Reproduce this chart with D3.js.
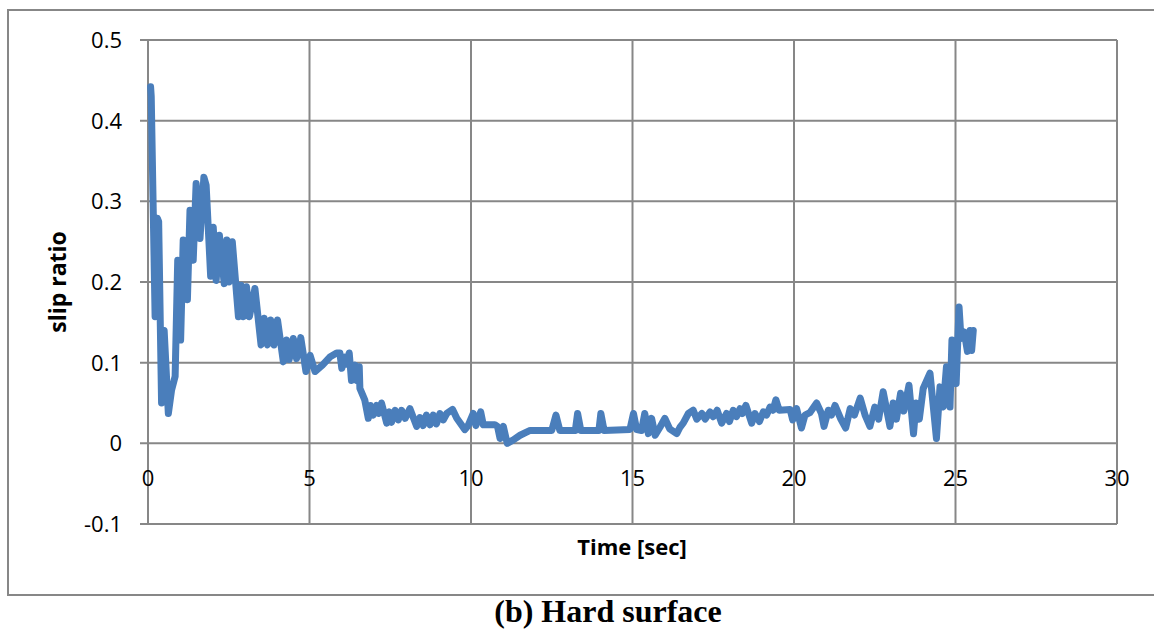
<!DOCTYPE html>
<html><head><meta charset="utf-8">
<script src="https://cdn.jsdelivr.net/npm/d3@7"></script>
<style>body{margin:0;background:#fff}</style>
</head><body>
<svg id="c" width="1154" height="631"></svg>
<script>
const timeSec = [0.08,0.10,0.22,0.29,0.33,0.42,0.50,0.63,0.73,0.84,0.92,1.01,1.09,1.22,1.30,1.40,1.49,1.61,1.73,1.80,1.94,2.02,2.11,2.21,2.36,2.44,2.51,2.61,2.80,2.88,2.95,3.05,3.14,3.31,3.50,3.60,3.70,3.80,3.90,4.01,4.19,4.29,4.37,4.50,4.60,4.73,4.89,5.02,5.17,5.40,5.63,5.84,5.94,6.00,6.09,6.14,6.23,6.30,6.41,6.46,6.54,6.56,6.71,6.82,6.89,6.97,7.08,7.15,7.23,7.39,7.47,7.54,7.65,7.75,7.85,7.96,8.11,8.32,8.42,8.52,8.62,8.73,8.83,8.93,9.04,9.14,9.25,9.43,9.56,9.81,9.91,10.07,10.15,10.30,10.38,10.74,10.82,10.90,11.00,11.12,11.30,11.52,11.83,12.50,12.63,12.75,13.23,13.30,13.40,13.96,14.02,14.12,14.92,15.03,15.13,15.28,15.38,15.49,15.59,15.70,15.85,16.00,16.15,16.37,16.47,16.57,16.73,16.88,16.99,17.15,17.25,17.40,17.50,17.62,17.76,17.91,18.00,18.12,18.22,18.33,18.40,18.51,18.69,18.79,18.93,19.05,19.15,19.26,19.35,19.44,19.54,19.88,19.96,20.08,20.23,20.34,20.49,20.70,20.85,20.93,21.06,21.16,21.27,21.45,21.60,21.74,21.87,22.05,22.20,22.35,22.50,22.62,22.76,22.97,23.07,23.17,23.30,23.40,23.56,23.70,23.78,23.88,24.00,24.21,24.41,24.52,24.62,24.72,24.83,24.89,25.02,25.11,25.17,25.27,25.37,25.45,25.50,25.55];
const slipRatio = [0.442,0.43,0.157,0.279,0.275,0.05,0.14,0.037,0.066,0.083,0.227,0.128,0.252,0.178,0.289,0.227,0.322,0.254,0.33,0.32,0.207,0.268,0.202,0.258,0.198,0.252,0.200,0.250,0.157,0.196,0.157,0.194,0.157,0.192,0.122,0.155,0.122,0.153,0.122,0.153,0.101,0.128,0.104,0.130,0.105,0.131,0.089,0.109,0.089,0.097,0.107,0.112,0.112,0.093,0.107,0.098,0.112,0.078,0.097,0.078,0.095,0.068,0.054,0.031,0.047,0.035,0.047,0.037,0.050,0.025,0.039,0.026,0.041,0.029,0.041,0.031,0.043,0.021,0.032,0.022,0.035,0.023,0.035,0.024,0.037,0.029,0.037,0.042,0.031,0.017,0.022,0.037,0.022,0.039,0.023,0.023,0.021,0.006,0.021,0.000,0.004,0.010,0.016,0.016,0.035,0.016,0.016,0.037,0.016,0.016,0.037,0.016,0.017,0.037,0.017,0.016,0.037,0.012,0.031,0.010,0.020,0.031,0.018,0.012,0.020,0.025,0.037,0.041,0.030,0.037,0.030,0.039,0.033,0.041,0.025,0.037,0.027,0.041,0.033,0.043,0.037,0.047,0.025,0.037,0.027,0.039,0.035,0.045,0.041,0.054,0.041,0.042,0.029,0.043,0.019,0.035,0.038,0.050,0.037,0.021,0.041,0.035,0.047,0.030,0.019,0.043,0.035,0.056,0.035,0.021,0.045,0.030,0.064,0.021,0.050,0.030,0.062,0.040,0.072,0.012,0.050,0.030,0.068,0.087,0.006,0.070,0.045,0.095,0.045,0.128,0.074,0.169,0.130,0.138,0.114,0.140,0.115,0.140];
const xTicks = [0,5,10,15,20,25,30];
const yTicks = [-0.1,0,0.1,0.2,0.3,0.4,0.5];
const yTickLabels = ["-0.1","0","0.1","0.2","0.3","0.4","0.5"];
const xTitle = "Time [sec]";
const yTitle = "slip ratio";
const caption = "(b) Hard surface";

const svg = d3.select("#c");
const grid = "#878787";
svg.append("rect").attr("x",8).attr("y",10).attr("width",1160).attr("height",585)
  .attr("fill","none").attr("stroke",grid).attr("stroke-width",2);

const x = d3.scaleLinear().domain([0,30]).range([148,1117]);
const y = d3.scaleLinear().domain([-0.1,0.5]).range([524,40]);

svg.append("g").selectAll("line").data(yTicks).join("line")
  .attr("x1",140).attr("x2",x(30)).attr("y1",d=>y(d)).attr("y2",d=>y(d))
  .attr("stroke",grid).attr("stroke-width",2);
svg.append("g").selectAll("line").data(xTicks).join("line")
  .attr("x1",d=>x(d)).attr("x2",d=>x(d)).attr("y1",y(0.5)).attr("y2",y(-0.1))
  .attr("stroke",grid).attr("stroke-width",2);

const font = "'Open Sans', 'Liberation Sans', sans-serif";
svg.append("g").selectAll("text").data(yTicks).join("text")
  .attr("x",122).attr("y",d=>y(d)).attr("dy","0.36em").attr("text-anchor","end")
  .attr("font-family",font).attr("font-size",22).attr("fill","#000")
  .text((d,i)=>yTickLabels[i]);
svg.append("g").selectAll("text").data(xTicks).join("text")
  .attr("x",d=>x(d)).attr("y",y(0)+35).attr("dy","0.36em").attr("text-anchor","middle")
  .attr("font-family",font).attr("font-size",22).attr("fill","#000")
  .text(d=>d);

svg.append("text").attr("x",632).attr("y",555).attr("text-anchor","middle")
  .attr("font-family",font).attr("font-weight","bold").attr("font-size",22).text(xTitle);
svg.append("text").attr("transform","translate(66,282) rotate(-90)").attr("text-anchor","middle")
  .attr("font-family",font).attr("font-weight","bold").attr("font-size",23).text(yTitle);

const data = timeSec.map((t,i)=>[t,slipRatio[i]]);
svg.append("path").datum(data)
  .attr("d",d3.line().x(d=>x(d[0])).y(d=>y(d[1])))
  .attr("fill","none").attr("stroke","#4a7ebb").attr("stroke-width",7)
  .attr("stroke-linejoin","round").attr("stroke-linecap","round");

svg.append("text").attr("x",608).attr("y",622).attr("text-anchor","middle")
  .attr("font-family","'Liberation Serif', 'Times New Roman', serif").attr("font-weight","bold")
  .attr("font-size",32).text(caption);
</script>
</body></html>
